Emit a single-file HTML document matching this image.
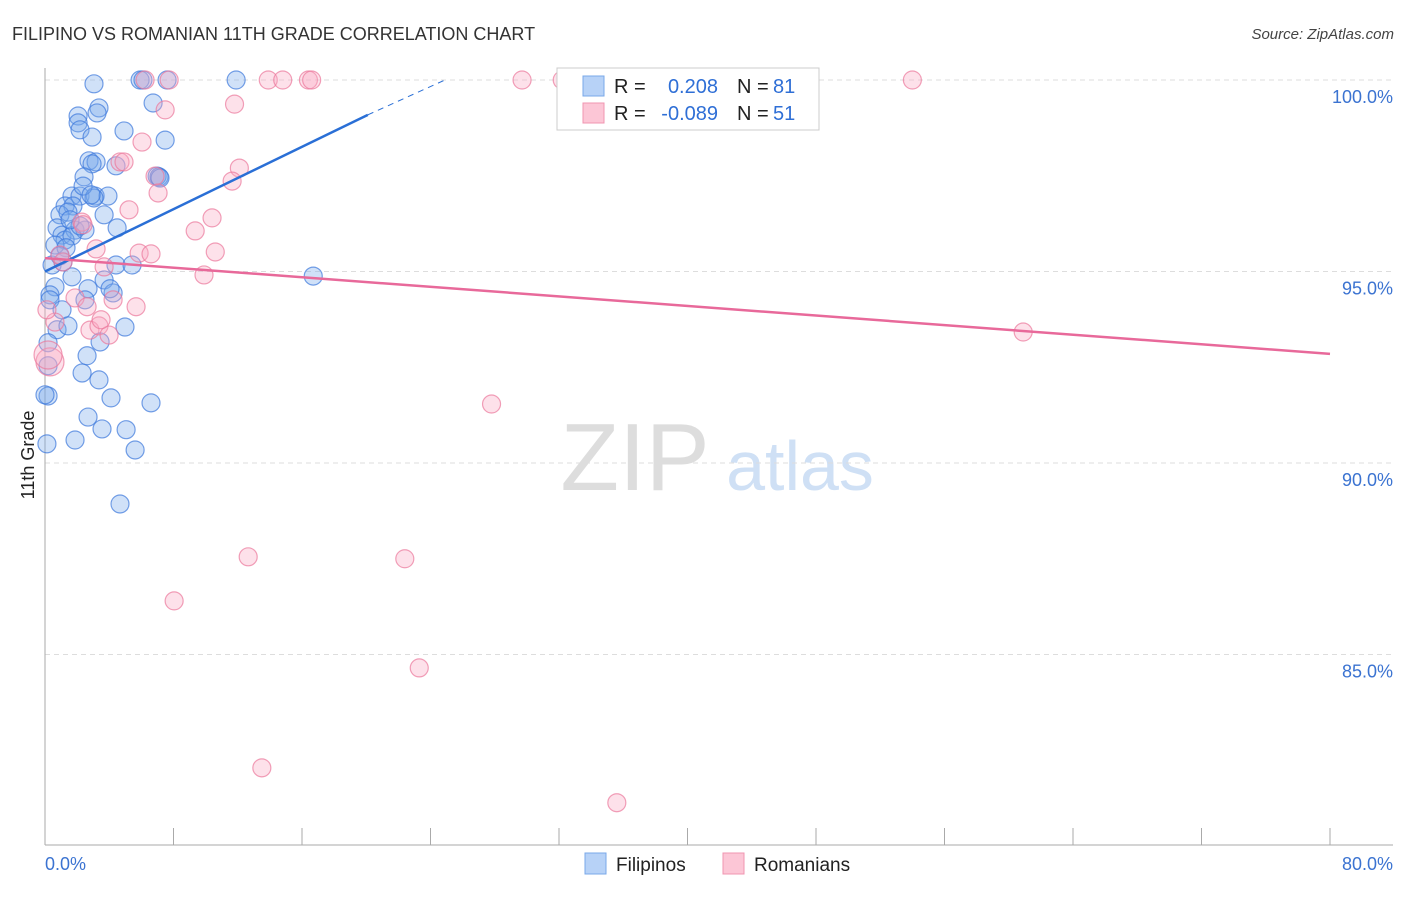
<!DOCTYPE html>
<html><head><meta charset="utf-8"><style>
body{margin:0;background:#fff;font-family:"Liberation Sans",sans-serif}
svg text{font-family:"Liberation Sans",sans-serif}
</style></head><body>
<svg id="chart" width="1406" height="892" viewBox="0 0 1406 892">
<text x="12" y="40" font-size="18" fill="#333">FILIPINO VS ROMANIAN 11TH GRADE CORRELATION CHART</text>
<text x="1394" y="39" font-size="15" fill="#444" font-style="italic" text-anchor="end">Source: ZipAtlas.com</text>
<text transform="translate(34,455) rotate(-90)" font-size="18" fill="#222" text-anchor="middle">11th Grade</text>
<g>
<text x="635" y="490" font-size="96" fill="#ddd" font-family="Liberation Serif" text-anchor="middle">ZIP</text>
<text x="800" y="490" font-size="70" fill="#cfe0f5" text-anchor="middle">atlas</text>
</g>
<g id="grid"></g><g id="axes"></g><g id="pts"></g><g id="lines"></g>
<g>
<rect x="557" y="68" width="262" height="62" fill="#fff" stroke="#ccc"/>
<rect x="583" y="76" width="21" height="20" fill="#b7d2f7" stroke="#7aa8e8"/>
<rect x="583" y="103" width="21" height="20" fill="#fcc6d6" stroke="#f095b0"/>
<text x="614" y="93" font-size="20" fill="#222">R = </text><text x="718" y="93" font-size="20" fill="#2f6fd6" text-anchor="end">0.208</text>
<text x="737" y="93" font-size="20" fill="#222">N = </text><text x="773" y="93" font-size="20" fill="#2f6fd6">81</text>
<text x="614" y="120" font-size="20" fill="#222">R = </text><text x="718" y="120" font-size="20" fill="#2f6fd6" text-anchor="end">-0.089</text>
<text x="737" y="120" font-size="20" fill="#222">N = </text><text x="773" y="120" font-size="20" fill="#2f6fd6">51</text>
</g>
<g>
<rect x="585" y="853" width="21" height="21" fill="#b7d2f7" stroke="#7aa8e8"/>
<text x="616" y="871" font-size="19" fill="#222">Filipinos</text>
<rect x="723" y="853" width="21" height="21" fill="#fcc6d6" stroke="#f095b0"/>
<text x="754" y="871" font-size="19" fill="#222">Romanians</text>
</g>
</svg>
<script>
const yTicks=[100,95,90,85];
const yTickLabels=["100.0%","95.0%","90.0%","85.0%"];
const xTicks=[0,8,16,24,32,40,48,56,64,72,80];
const xEndLabels=["0.0%","80.0%"];
const filX=[3.05,5.92,6.1,7.6,11.9,3.36,3.24,2.06,2.06,2.18,2.93,4.92,7.48,6.73,2.74,3.18,4.42,2.93,6.98,7.1,2.43,1.68,2.18,3.12,3.92,3.05,1.25,1.74,3.68,0.93,1.43,0.75,1.06,1.87,2.49,1.25,1.68,2.18,4.49,0.62,1.31,4.42,5.42,16.7,1.68,0.44,3.68,2.68,0.62,0.31,4.24,0.31,1.06,0.75,1.43,4.98,3.43,0.19,2.62,0.19,2.31,3.36,0.19,4.11,6.6,2.68,3.55,5.05,0.12,1.87,5.61,4.67,2.37,2.87,0.93,1.56,2.49,4.05,7.16,0,1.12];
const filY=[99.9,100,100,100,100,99.27,99.14,99.06,98.88,98.7,98.51,98.67,98.43,99.4,97.89,97.86,97.76,97.81,97.49,97.47,97.47,96.97,96.97,96.97,96.97,96.92,96.71,96.71,96.48,96.48,96.55,96.14,95.95,96.08,96.08,95.82,95.93,96.19,96.14,95.69,95.62,95.17,95.17,94.88,94.86,95.17,94.78,94.55,94.6,94.39,94.44,94.26,94.0,93.48,93.58,93.55,93.16,93.14,92.8,92.54,92.35,92.17,91.75,91.7,91.57,91.2,90.89,90.87,90.5,90.6,90.34,88.93,97.23,97.0,95.41,96.35,94.26,94.55,97.44,91.78,95.25];
const romX=[6.23,7.73,13.9,14.8,16.4,16.6,29.7,54.0,32.2,7.48,11.8,6.04,4.67,4.92,6.85,12.1,11.65,7.04,5.23,10.4,9.35,2.3,3.18,5.86,6.6,10.6,3.68,1.12,9.9,1.87,2.62,4.24,5.67,0.62,2.8,3.36,3.99,60.9,0.31,0.12,27.8,12.65,22.4,8.04,23.3,13.5,35.6,0.93,2.37,0.19,3.49];
const romY=[100,100,100,100,100,100,100,100,100,99.22,99.37,98.38,97.86,97.86,97.49,97.7,97.36,97.05,96.61,96.4,96.06,96.29,95.59,95.48,95.46,95.51,95.12,95.25,94.91,94.31,94.08,94.26,94.08,93.68,93.47,93.58,93.34,93.42,92.64,94.0,91.54,87.55,87.5,86.4,84.65,82.04,81.13,95.43,96.22,92.82,93.74];
const filTrend=[[0,95.0],[20.1,99.09],[24.9,100]];
const romTrend=[[0,95.35],[80,92.85]];
const NS="http://www.w3.org/2000/svg";
const X=v=>45+v*(1285/80);
const Y=v=>80+(100-v)*38.3;
function mk(t,a,p){const e=document.createElementNS(NS,t);for(const k in a)e.setAttribute(k,a[k]);document.getElementById(p).appendChild(e);return e;}
yTicks.forEach((v,i)=>{
 const g=mk('line',{x1:45,x2:1393,y1:Y(v),y2:Y(v),stroke:'#ddd','stroke-dasharray':'5,4'},'grid');
 
 
 const t=mk('text',{x:1393,y:Y(v)+23,'font-size':18,fill:'#3b73d1','text-anchor':'end'},'axes');t.textContent=yTickLabels[i];
 
 
});
let ax=mk('line',{x1:45,x2:45,y1:68,y2:845,stroke:'#aaa'},'axes');


ax=mk('line',{x1:45,x2:1393,y1:845,y2:845,stroke:'#aaa'},'axes');


xTicks.forEach(v=>{const t=mk('line',{x1:X(v),x2:X(v),y1:828,y2:845,stroke:'#aaa'},'axes');
 
 });
let l=mk('text',{x:45,y:870,'font-size':18,fill:'#3b73d1'},'axes');l.textContent=xEndLabels[0];


l=mk('text',{x:1393,y:870,'font-size':18,fill:'#3b73d1','text-anchor':'end'},'axes');l.textContent=xEndLabels[1];


filX.forEach((x,i)=>{const c=mk('circle',{cx:X(x),cy:Y(filY[i]),r:9,fill:'rgba(120,170,235,0.35)',stroke:'rgba(60,120,220,0.7)','stroke-width':1.2},'pts');
 
 });
romX.forEach((x,i)=>{const c=mk('circle',{cx:X(x),cy:Y(romY[i]),r:(x<0.5&&romY[i]<93)?14:9,fill:'rgba(250,170,195,0.35)',stroke:'rgba(235,120,155,0.7)','stroke-width':1.2},'pts');
 
 });
let tl=mk('line',{x1:X(filTrend[0][0]),y1:Y(filTrend[0][1]),x2:X(filTrend[1][0]),y2:Y(filTrend[1][1]),stroke:'#2a6fd6','stroke-width':2.5},'lines');


tl=mk('line',{x1:X(filTrend[1][0]),y1:Y(filTrend[1][1]),x2:X(filTrend[2][0]),y2:Y(filTrend[2][1]),stroke:'#2a6fd6','stroke-width':1,'stroke-dasharray':'6,5'},'lines');


tl=mk('line',{x1:X(romTrend[0][0]),y1:Y(romTrend[0][1]),x2:X(romTrend[1][0]),y2:Y(romTrend[1][1]),stroke:'#e8699a','stroke-width':2.5},'lines');


</script>
</body></html>
